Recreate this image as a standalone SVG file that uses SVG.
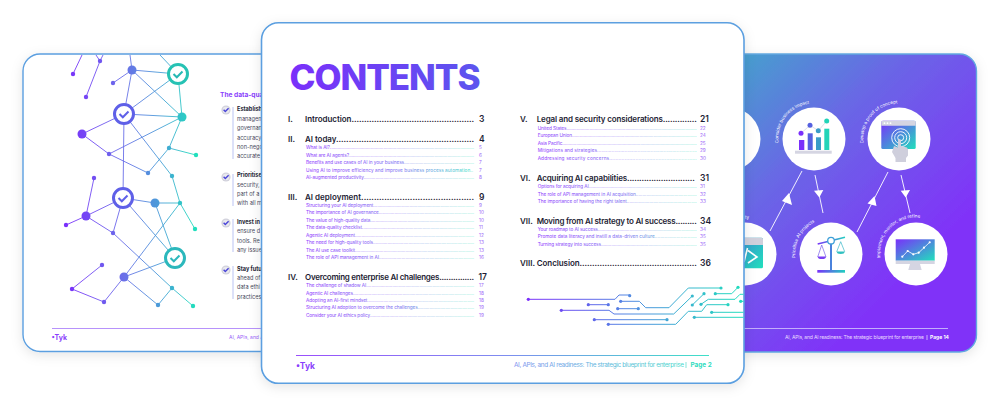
<svg xmlns="http://www.w3.org/2000/svg" width="1000" height="406" viewBox="0 0 1000 406">
<style>
text{font-family:Inter,"Liberation Sans",sans-serif}
.h{font-size:8px;font-weight:600;fill:#1d1d34}
.n{font-size:8.5px;font-weight:600;fill:#1d1d34}
.s1{font-size:4.7px;fill:url(#subL)}
.s2{font-size:4.7px;fill:url(#subR)}
.p{font-size:4.7px;fill:#9a63f7}
.b{font-size:5.6px;fill:#4a4a5c}
.bb{font-size:5.6px;font-weight:700;fill:#1d1d34}
.cur{font-size:4.5px;fill:#fff}
.net{fill:none;stroke:url(#net);stroke-width:.9}
.nd{fill:url(#net)}
.arr{stroke:#fff;stroke-width:.9;fill:none}
.cc{fill:#fff}
</style>
<defs>
<filter id="sh" x="-10%" y="-10%" width="120%" height="120%"><feDropShadow dx="0" dy="3" stdDeviation="6" flood-color="#000" flood-opacity=".1"/></filter>
<linearGradient id="bg" gradientUnits="userSpaceOnUse" x1="700" y1="40" x2="920" y2="260"><stop offset="0" stop-color="#3bb3c6"/><stop offset=".5" stop-color="#6a66e6"/><stop offset="1" stop-color="#8033f8"/></linearGradient>
<linearGradient id="net" gradientUnits="userSpaceOnUse" x1="66" y1="0" x2="196" y2="0"><stop offset="0" stop-color="#7a2ffb"/><stop offset=".45" stop-color="#6a70e8"/><stop offset=".72" stop-color="#4a9cd8"/><stop offset="1" stop-color="#20e0bc"/></linearGradient>
<linearGradient id="ttl" gradientUnits="userSpaceOnUse" x1="290" y1="0" x2="480" y2="0"><stop offset="0" stop-color="#7a30fa"/><stop offset="1" stop-color="#5c55ee"/></linearGradient>
<linearGradient id="subL" gradientUnits="userSpaceOnUse" x1="306" y1="0" x2="474" y2="0"><stop offset="0" stop-color="#8a3ffc"/><stop offset=".55" stop-color="#7a70f0"/><stop offset="1" stop-color="#3fe0c8"/></linearGradient>
<linearGradient id="subR" gradientUnits="userSpaceOnUse" x1="538" y1="0" x2="697" y2="0"><stop offset="0" stop-color="#8a3ffc"/><stop offset=".55" stop-color="#7a70f0"/><stop offset="1" stop-color="#3fe0c8"/></linearGradient>
<linearGradient id="foot" gradientUnits="userSpaceOnUse" x1="296" y1="0" x2="709" y2="0"><stop offset="0" stop-color="#9a4ffc"/><stop offset=".5" stop-color="#7f8cf0"/><stop offset="1" stop-color="#3fe0c8"/></linearGradient>
<linearGradient id="ico" x1="0" y1="0" x2="1" y2="1"><stop offset="0" stop-color="#7a2ffb"/><stop offset="1" stop-color="#20e0bc"/></linearGradient>
<linearGradient id="code" gradientUnits="userSpaceOnUse" x1="735" y1="245" x2="763" y2="268"><stop offset="0" stop-color="#3a8fd0"/><stop offset="1" stop-color="#20e0bc"/></linearGradient>
<linearGradient id="icoH" gradientUnits="userSpaceOnUse" x1="817" y1="0" x2="845" y2="0"><stop offset="0" stop-color="#7a2ffb"/><stop offset="1" stop-color="#20d0c0"/></linearGradient>
<linearGradient id="cirZ" gradientUnits="userSpaceOnUse" x1="528" y1="0" x2="745" y2="0"><stop offset="0" stop-color="#7a2ffb"/><stop offset=".5" stop-color="#4f8fe0"/><stop offset="1" stop-color="#20e0bc"/></linearGradient>
<clipPath id="rc"><rect x="744" y="54" width="233" height="298"/></clipPath>
<clipPath id="cc"><rect x="520" y="280" width="223.500" height="60"/></clipPath>
<clipPath id="lc"><rect x="24" y="55" width="238" height="296" rx="14"/></clipPath>
<g id="chk"><circle r="4.6" fill="#d2d2dc"/><circle r="3.2" fill="#fff" opacity=".5"/><path d="M-2.4-.2 L-.7 1.6 L2.6-1.8" fill="none" stroke="#4a45d8" stroke-width="1.4"/></g>
</defs>

<g id="page-left">
<rect x="23" y="54" width="400" height="297.500" rx="17" fill="#fff" stroke="#5b9fe0" stroke-width="1.400" filter="url(#sh)"/>
<g id="network" clip-path="url(#lc)">
<path class="net" d="M73 74L82 55M100 61L96 55M100 61L103 55M86 97L100 61M113 83L132 70M132 70L130 55M178 74L160 55M132 70L178 74M132 70L182 117M132 70L124 114M124 114L178 74M178 74L182 117M124 114L182 117M124 114L82 134M82 134L109 154M109 154L182 117M109 154L148 173M148 173L169 148L182 117M169 148L196 155M124 114L172 176L180 203M124 114L123 198M123 198L155 203L180 203L195 229M155 203L175 258M123 198L86 216L66 225M86 216L113 233M123 198L113 233M94 178L86 216M113 233L172 288L193 306M123 198L175 258M180 203L124 277M124 277L175 258M124 277L158 305L172 288M124 277L104 302L72 289L102 265"/>
<g class="nd"><circle cx="73" cy="74" r="2.200"/><circle cx="100" cy="61" r="2.200"/><circle cx="113" cy="83" r="2.200"/><circle cx="86" cy="97" r="2.200"/><circle cx="132" cy="70" r="4.500"/><circle cx="182" cy="117" r="4.500"/><circle cx="82" cy="134" r="4.500"/><circle cx="109" cy="154" r="2.200"/><circle cx="148" cy="173" r="2.200"/><circle cx="169" cy="148" r="2.200"/><circle cx="196" cy="155" r="2.200"/><circle cx="172" cy="176" r="2.200"/><circle cx="94" cy="178" r="2.200"/><circle cx="155" cy="203" r="4.500"/><circle cx="180" cy="203" r="2.200"/><circle cx="195" cy="229" r="2.200"/><circle cx="86" cy="216" r="4.500"/><circle cx="66" cy="225" r="2.200"/><circle cx="113" cy="233" r="2.200"/><circle cx="102" cy="265" r="2.200"/><circle cx="72" cy="289" r="2.200"/><circle cx="104" cy="302" r="2.200"/><circle cx="124" cy="277" r="4.500"/><circle cx="158" cy="305" r="2.200"/><circle cx="172" cy="288" r="2.200"/><circle cx="193" cy="306" r="2.200"/></g>
<g id="check-1"><circle cx="178" cy="74" r="9.500" fill="#fff" stroke="#26c2b4" stroke-width="3"/><path d="M173.500 74L176.800 77.300L182.500 71.500" fill="none" stroke="#26b8b4" stroke-width="2"/></g>
<g id="check-2"><circle cx="124" cy="114" r="9.500" fill="#fff" stroke="#5f60e8" stroke-width="3"/><path d="M119.500 114L122.800 117.300L128.500 111.500" fill="none" stroke="#5f60e8" stroke-width="2"/></g>
<g id="check-3"><circle cx="123" cy="198" r="9.500" fill="#fff" stroke="#5f60e8" stroke-width="3"/><path d="M118.500 198L121.800 201.300L127.500 195.500" fill="none" stroke="#5f60e8" stroke-width="2"/></g>
<g id="check-4"><circle cx="175" cy="258" r="9.500" fill="#fff" stroke="#2cb8bc" stroke-width="3"/><path d="M170.500 258L173.800 261.300L179.500 255.500" fill="none" stroke="#2cb8bc" stroke-width="2"/></g>
</g>
<text x="220" y="97" font-size="6.600" font-weight="700" fill="#8a3ffc">The data-qua</text>
<use href="#chk" x="226" y="110"/><use href="#chk" x="226" y="177"/><use href="#chk" x="226" y="223"/><use href="#chk" x="226" y="270"/>
<path d="M233 107V159M233 174V206M233 219V252M233 266V299" stroke="#a8b4f0" stroke-width=".8" fill="none"/>
<text class="bb" x="237" y="111">Establish</text>
<text class="b" x="237" y="120.500">managem</text><text class="b" x="237" y="130">governan</text><text class="b" x="237" y="139.500">accuracy</text><text class="b" x="237" y="149">non-nego</text><text class="b" x="237" y="158">accurate</text>
<text class="bb" x="237" y="177">Prioritise</text>
<text class="b" x="237" y="186.500">security,</text><text class="b" x="237" y="196">part of a</text><text class="b" x="237" y="205">with all m</text>
<text class="bb" x="237" y="224">Invest in</text>
<text class="b" x="237" y="233">ensure d</text><text class="b" x="237" y="242.500">tools. Re</text><text class="b" x="237" y="252">any issue</text>
<text class="bb" x="237" y="270.500">Stay futu</text>
<text class="b" x="237" y="280">ahead of</text><text class="b" x="237" y="289">data ethi</text><text class="b" x="237" y="298.500">practices</text>
<path d="M52 328.500H262" stroke="#b792fb" stroke-width="1"/>
<text x="51.500" y="339.500" font-size="7" font-weight="700" fill="#8a3ffc">•Tyk</text>
<text x="229" y="339" font-size="5" fill="#9a5ff8">AI, APIs, and A</text>
</g>

<g id="page-right">
<rect x="500" y="54" width="476.500" height="298" rx="17" fill="url(#bg)" stroke="#62a8e0" stroke-width="1.400" filter="url(#sh)"/>
<g id="connectors" clip-path="url(#rc)">
<path class="arr" d="M802 171L770 231M815 175L823 213M888 172L857 232M901 175L910 213"/>
<path class="cc" d="M789 193L792 205L782 201ZM814 190.700L823.300 190L819.300 197.500ZM874.500 196L876.500 206L867.500 203.500ZM900.700 190.700L910 190L905.700 197.500Z"/>
</g>
<g id="node-left-top" clip-path="url(#rc)"><circle cx="729" cy="139" r="31.500" fill="#fff"/></g>
<g id="node-impact">
<circle cx="814" cy="139" r="31.500" fill="#fff"/>
<path fill="none" id="a1" d="M778.500 143A35.500 35.500 0 0 1 840 115"/>
<text class="cur"><textPath href="#a1">Consider business impact</textPath></text>
<rect x="795" y="150.700" width="36.700" height="3" fill="#d5d5e2"/>
<rect x="799" y="140" width="5.300" height="10" fill="#7a2ffb"/><rect x="807.700" y="133.300" width="5" height="16.700" fill="#5560e0"/><rect x="816" y="137.300" width="5" height="12.700" fill="#3a9cc8"/><rect x="824.300" y="128.700" width="5" height="21.300" fill="#22d4b8"/>
<path d="M801 133.300L810 125.300L818.300 130.700L826.700 121" fill="none" stroke="#d5d5e2" stroke-width=".8"/>
<circle cx="801" cy="133.300" r="2.500" fill="#7a2ffb"/><circle cx="810" cy="125.300" r="2.500" fill="#5560e0"/><circle cx="818.300" cy="130.700" r="2.500" fill="#3a9cc8"/><circle cx="826.700" cy="121" r="2.500" fill="#22d4b8"/>
</g>
<g id="node-proof">
<circle cx="899" cy="139" r="31.500" fill="#fff"/>
<path fill="none" id="a2" d="M863.500 143A35.500 35.500 0 0 1 925 115"/>
<text class="cur"><textPath href="#a2">Develop a proof of concept</textPath></text>
<rect x="881.300" y="120.700" width="34.400" height="28.300" rx="1.500" fill="url(#ico)"/>
<path d="M881.300 122.200a1.500 1.500 0 0 1 1.500-1.500h31.400a1.500 1.500 0 0 1 1.500 1.500v3.500h-34.400z" fill="#d5d5e2"/>
<circle cx="884.500" cy="123.200" r=".9" fill="#fff"/><circle cx="887.500" cy="123.200" r=".9" fill="#fff"/><circle cx="890.500" cy="123.200" r=".9" fill="#fff"/>
<g fill="none" stroke="#fff" stroke-width=".9"><circle cx="900.700" cy="137.700" r="9"/><circle cx="900.700" cy="137.700" r="6"/><circle cx="900.700" cy="137.700" r="3"/></g>
<path d="M894 146l4 1.500V140.500a1.400 1.400 0 0 1 3 0V146l6 1.500 1 2v6l-2 2.500V162h-10.500v-4l-3.500-6z" fill="#cfcfdc"/>
</g>
<g id="node-left-bottom" clip-path="url(#rc)">
<circle cx="745" cy="254" r="31.500" fill="#fff"/>
<rect x="735" y="237.700" width="28" height="30.600" rx="1.500" fill="url(#code)"/>
<path d="M735 237.700h26.500a1.500 1.500 0 0 1 1.500 1.500V245h-28z" fill="#d0d0dc"/>
<path d="M748 250.500L757 257L748 263M747.500 248L744 262" fill="none" stroke="#fff" stroke-width="1.600"/>
<text class="cur" x="745" y="219">ty</text>
</g>
<g id="node-prioritise">
<circle cx="831" cy="254" r="31.500" fill="#fff"/>
<path fill="none" id="a3" d="M795.500 258A35.500 35.500 0 0 1 857 230"/>
<text class="cur"><textPath href="#a3">Prioritise AI projects</textPath></text>
<path d="M817.700 244L845 237.300" stroke="url(#icoH)" stroke-width="1.600" fill="none"/>
<rect x="830" y="243" width="2" height="27" fill="#4a82dc"/>
<rect x="817.300" y="270" width="27.700" height="2.700" fill="url(#icoH)"/>
<circle cx="831" cy="240.700" r="3.300" fill="#fff" stroke="#3fa0d8" stroke-width="1.300"/>
<path d="M821.700 245L817.700 257M821.700 245L826 257" stroke="#7a60e8" stroke-width=".7" fill="none"/>
<path d="M817.700 256.500H826a4 2.500 0 0 1-8.300 0z" fill="#7a3ff4"/>
<path d="M840.700 241.700L836.700 251.700M840.700 241.700L844.700 251.700" stroke="#38b8c8" stroke-width=".7" fill="none"/>
<path d="M836.700 251.500H844.700a4 2.500 0 0 1-8 0z" fill="#30c0c0"/>
</g>
<g id="node-implement">
<circle cx="916" cy="254" r="31.500" fill="#fff"/>
<path fill="none" id="a4" d="M880.500 258A35.500 35.500 0 0 1 945 233"/>
<text class="cur"><textPath href="#a4">Implement, monitor, and refine</textPath></text>
<rect x="895.700" y="239.300" width="39" height="21.400" fill="url(#ico)"/>
<rect x="895.700" y="260.700" width="39" height="3.300" fill="#d5d5e2"/>
<path d="M910 264h10l1.700 6h-13.400z" fill="#d5d5e2"/>
<path d="M902.300 256.700L907.700 251L913.300 254.300L918.700 252.700L924 247.700L929.700 242.300" fill="none" stroke="#fff" stroke-width=".8"/>
<g fill="#fff"><circle cx="902.300" cy="256.700" r="1.100"/><circle cx="907.700" cy="251" r="1.100"/><circle cx="913.300" cy="254.300" r="1.100"/><circle cx="918.700" cy="252.700" r="1.100"/><circle cx="924" cy="247.700" r="1.100"/><circle cx="929.700" cy="242.300" r="1.100"/></g>
</g>
<path d="M744 328.500H948" stroke="#c3aefb" stroke-width="1"/>
<text x="785" y="339" font-size="5" textLength="139" fill="#e8dcff">AI, APIs, and AI readiness: The strategic blueprint for enterprise</text>
<path d="M927 335V340" stroke="#fff" stroke-width=".6"/>
<text x="930" y="339" font-size="5" font-weight="700" fill="#fff">Page 14</text>
</g>

<g id="page-contents">
<rect x="261.500" y="22.800" width="482.500" height="360.500" rx="17" fill="#fff" stroke="#5b9fe0" stroke-width="1.600" filter="url(#sh)"/>
<text x="289.500" y="90" font-size="35" font-weight="800" textLength="191" lengthAdjust="spacing" fill="url(#ttl)">CONTENTS</text>

<g id="toc-i"><text class="h" x="288" y="122">I.</text><text class="h" x="305" y="122" textLength="169">Introduction.................................................</text><text class="n" x="479" y="122">3</text></g>
<g id="toc-ii"><text class="h" x="288" y="142">II.</text><text class="h" x="305" y="142" textLength="169">AI today.......................................................</text><text class="n" x="479" y="142">4</text>
<text class="s1" x="306" y="149.400" textLength="168">What is AI?.................................................................................................................</text><text class="p" x="479" y="149.400">5</text>
<text class="s1" x="306" y="156.700" textLength="168">What are AI agents?..................................................................................................</text><text class="p" x="479" y="156.700">6</text>
<text class="s1" x="306" y="164.400" textLength="168">Benefits and use cases of AI in your business......................................................</text><text class="p" x="479" y="164.400">7</text>
<text class="s1" x="306" y="171.700" textLength="167">Using AI to improve efficiency and improve business process automation..</text><text class="p" x="479" y="171.700">7</text>
<text class="s1" x="306" y="179.400" textLength="168">AI-augmented productivity.....................................................................................</text><text class="p" x="479" y="179.400">8</text></g>
<g id="toc-iii"><text class="h" x="288" y="199.500">III.</text><text class="h" x="305" y="199.500" textLength="169">AI deployment............................................</text><text class="n" x="479" y="199.500">9</text>
<text class="s1" x="306" y="206.700" textLength="168">Structuring your AI deployment..............................................................................</text><text class="p" x="479" y="206.700">9</text>
<text class="s1" x="306" y="214" textLength="168">The importance of AI governance.........................................................................</text><text class="p" x="479" y="214">10</text>
<text class="s1" x="306" y="221.700" textLength="168">The value of high-quality data.................................................................................</text><text class="p" x="479" y="221.700">10</text>
<text class="s1" x="306" y="229.400" textLength="168">The data-quality checklist.......................................................................................</text><text class="p" x="479" y="229.400">11</text>
<text class="s1" x="306" y="236.700" textLength="168">Agentic AI deployment............................................................................................</text><text class="p" x="479" y="236.700">12</text>
<text class="s1" x="306" y="244.400" textLength="168">The need for high-quality tools.............................................................................</text><text class="p" x="479" y="244.400">13</text>
<text class="s1" x="306" y="251.700" textLength="168">The AI use case toolkit............................................................................................</text><text class="p" x="479" y="251.700">13</text>
<text class="s1" x="306" y="259.400" textLength="168">The role of API management in AI........................................................................</text><text class="p" x="479" y="259.400">16</text></g>
<g id="toc-iv"><text class="h" x="288" y="279.500">IV.</text><text class="h" x="305" y="279.500" textLength="169">Overcoming enterprise AI challenges...............</text><text class="n" x="478.500" y="279.500">17</text>
<text class="s1" x="306" y="287" textLength="168">The challenge of shadow AI...................................................................................</text><text class="p" x="479" y="287">17</text>
<text class="s1" x="306" y="294.700" textLength="168">Agentic AI challenges.............................................................................................</text><text class="p" x="479" y="294.700">18</text>
<text class="s1" x="306" y="302" textLength="168">Adopting an AI-first mindset.................................................................................</text><text class="p" x="479" y="302">18</text>
<text class="s1" x="306" y="309.400" textLength="168">Structuring AI adoption to overcome the challenges...........................................</text><text class="p" x="479" y="309.400">19</text>
<text class="s1" x="306" y="317.400" textLength="168">Consider your AI ethics policy.................................................................................</text><text class="p" x="479" y="317.400">19</text></g>

<g id="toc-v"><text class="h" x="520" y="122">V.</text><text class="h" x="536.700" y="122" textLength="160">Legal and security considerations..............</text><text class="n" x="700" y="122">21</text>
<text class="s2" x="537.700" y="129.700" textLength="159">United States......................................................................................................</text><text class="p" x="700" y="129.700">22</text>
<text class="s2" x="537.700" y="137" textLength="159">European Union..................................................................................................</text><text class="p" x="700" y="137">24</text>
<text class="s2" x="537.700" y="144.700" textLength="159">Asia Pacific...........................................................................................................</text><text class="p" x="700" y="144.700">25</text>
<text class="s2" x="537.700" y="152.400" textLength="159">Mitigations and strategies.....................................................................</text><text class="p" x="700" y="152.400">29</text>
<text class="s2" x="537.700" y="160.400" textLength="159">Addressing security concerns.........................................................</text><text class="p" x="700" y="160.400">30</text></g>
<g id="toc-vi"><text class="h" x="520" y="181">VI.</text><text class="h" x="536.700" y="181" textLength="158">Acquiring AI capabilities............................</text><text class="n" x="700" y="181">31</text>
<text class="s2" x="537.700" y="188" textLength="159">Options for acquiring AI....................................................................................</text><text class="p" x="700" y="188">31</text>
<text class="s2" x="537.700" y="195.700" textLength="159">The role of API management in AI acquisition..............................................</text><text class="p" x="700" y="195.700">32</text>
<text class="s2" x="537.700" y="203.400" textLength="159">The importance of having the right talent.....................................................</text><text class="p" x="700" y="203.400">33</text></g>
<g id="toc-vii"><text class="h" x="520" y="223.500">VII.</text><text class="h" x="536.700" y="223.500" textLength="160">Moving from AI strategy to AI success.........</text><text class="n" x="700" y="223.500">34</text>
<text class="s2" x="537.700" y="230.700" textLength="159">Your roadmap to AI success..............................................................................</text><text class="p" x="700" y="230.700">34</text>
<text class="s2" x="537.700" y="238.400" textLength="159">Promote data literacy and instill a data-driven culture...............................</text><text class="p" x="700" y="238.400">35</text>
<text class="s2" x="537.700" y="246" textLength="159">Turning strategy into success...........................................................................</text><text class="p" x="700" y="246">35</text></g>
<g id="toc-viii"><text class="h" x="520" y="266">VIII.</text><text class="h" x="536.700" y="266" textLength="160">Conclusion...............................................</text><text class="n" x="700" y="266">36</text></g>

<g clip-path="url(#cc)">
<g id="circuit">
<path stroke-width="1" fill="none" stroke="url(#cirZ)" d="M528.300 299.300H615L619 295H629.700M588.300 304.700H608.300M620.700 301.300H639.300L645.700 307.700H669L688.300 288H721M617.700 308.700H638.300M561.300 310.300H609L614 314H673.700L692.300 296M594.300 319.700H667M608.300 324.300H675.700L688.300 311.300H701.700L706.700 304.700H728M692.300 305L704 293.700M701 304.300L708.300 299.300H735L740 294.300H744M715.300 293.700H731.700L738 287.300M711.700 312.300H744M694.300 317.300H744M740.700 301.300H744"/>
<g fill="url(#cirZ)"><circle cx="528.300" cy="299.300" r="1.600"/><circle cx="629.700" cy="295.700" r="1.600"/><circle cx="588.300" cy="304.700" r="1.600"/><circle cx="608.300" cy="304.700" r="1.600"/><circle cx="620.700" cy="301.300" r="1.600"/><circle cx="721" cy="288" r="1.600"/><circle cx="617.700" cy="308.700" r="1.600"/><circle cx="638.300" cy="308.700" r="1.600"/><circle cx="561.300" cy="310.300" r="1.600"/><circle cx="692.300" cy="296" r="1.600"/><circle cx="594.300" cy="319.700" r="1.600"/><circle cx="667" cy="319.700" r="1.600"/><circle cx="608.300" cy="324.300" r="1.600"/><circle cx="728" cy="304.700" r="1.600"/><circle cx="692.300" cy="305" r="1.600"/><circle cx="704" cy="293.700" r="1.600"/><circle cx="701" cy="304.300" r="1.600"/><circle cx="715.300" cy="293.700" r="1.600"/><circle cx="738" cy="287.300" r="1.600"/><circle cx="711.700" cy="312.300" r="1.600"/><circle cx="694.300" cy="317.300" r="1.600"/><circle cx="740.700" cy="301.300" r="1.600"/></g>
</g></g>
<path d="M296 355.500H709" stroke="url(#foot)" stroke-width="1" fill="none"/>
<text x="296" y="369" font-size="8.500" font-weight="700" fill="#8a3ffc">•Tyk</text>
<text x="514" y="367" font-size="6.400" textLength="170" fill="url(#foot)">AI, APIs, and AI readiness: The strategic blueprint for enterprise</text>
<path d="M686 362V368" stroke="#55d8c8" stroke-width=".7"/>
<text x="690.500" y="367" font-size="6.400" font-weight="700" fill="#30dcc0">Page 2</text>
</g>
</svg>
